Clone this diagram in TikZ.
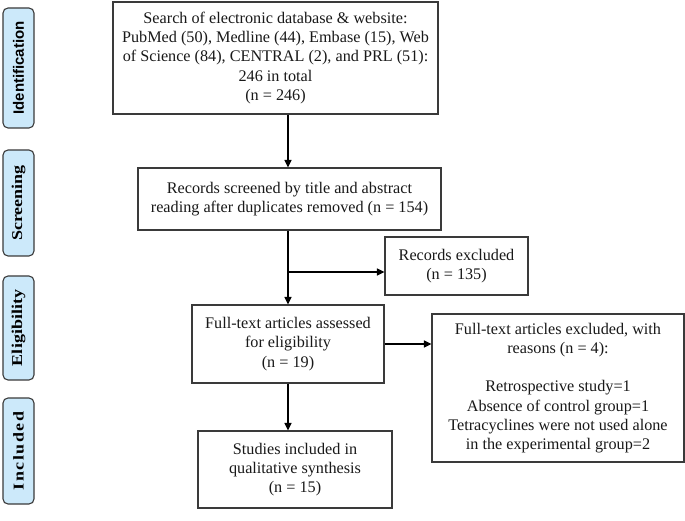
\documentclass[tikz,border=0pt]{standalone}
\usepackage{fontspec}
\setmainfont{Liberation Serif}
\setsansfont{Liberation Sans}
\usetikzlibrary{arrows.meta}
\definecolor{stageblue}{HTML}{CCE9FA}
\definecolor{edgegray}{HTML}{3A3A3A}

\begin{document}
\begin{tikzpicture}[x=1pt,y=-1pt,
    >={Triangle[length=7.5pt,width=7pt]},
    box/.style={draw=edgegray,line width=1.1pt,fill=white,align=center,inner sep=0pt,
        text=black!90,font=\fontsize{16.2}{19.3}\selectfont},
    stage/.style={draw=edgegray,line width=1.1pt,fill=stageblue,rounded corners=5pt,
        rotate=90,minimum height=31pt,inner sep=0pt,font=\bfseries\fontsize{15}{18}\selectfont},
    link/.style={->,line width=1.1pt,black}]

    % Fix the page size
    \useasboundingbox (0,0) rectangle (685,521);

    % Stage labels on the left
    \node[stage,minimum width=120pt] (ident) at (18.5,68) {\sffamily Identification};
    \node[stage,minimum width=106pt] (screening) at (18.5,203) {\scalebox{1.2}[1]{Screening}};
    \node[stage,minimum width=104pt] (elig) at (18.5,328) {\scalebox{1.2}[1]{Eligibility}};
    \node[stage,minimum width=106pt] (incl) at (18.5,451)
        {\scalebox{1.2}[1]{\addfontfeature{LetterSpace=8}Included}};

    % Main boxes
    \node[box,minimum width=325pt,minimum height=112pt] (search) at (275.5,58)
        {Search of electronic database \& website:\\PubMed (50), Medline (44), Embase (15), Web\\of Science (84), CENTRAL (2), and PRL (51):\\246 in total\\(n = 246)};
    \node[box,minimum width=303pt,minimum height=62pt] (screen) at (289.5,199)
        {Records screened by title and abstract\\reading after duplicates removed (n = 154)};
    \node[box,minimum width=143pt,minimum height=58pt] (excl) at (456.5,266)
        {Records excluded\\(n = 135)};
    \node[box,minimum width=192pt,minimum height=78pt] (full) at (288,344)
        {Full-text articles assessed\\for eligibility\\(n = 19)};
    \node[box,minimum width=252pt,minimum height=148pt] (reasons) at (558,388)
        {Full-text articles excluded, with\\reasons (n = 4):\\[19pt]Retrospective study=1\\Absence of control group=1\\Tetracyclines were not used alone\\in the experimental group=2};
    \node[box,minimum width=194pt,minimum height=77pt] (studies) at (295,469.5)
        {Studies included in\\qualitative synthesis\\(n = 15)};

    % Arrows
    \coordinate (branch) at (288,272);
    \draw[link] (search.south -| full) -- (screen.north -| full);
    \draw[link] (screen.south -| full) -- (full.north);
    \draw[link] (branch) -- (branch -| excl.west);
    \draw[link] (full.east) -- (full.east -| reasons.west);
    \draw[link] (full.south) -- (full.south |- studies.north);

\end{tikzpicture}
\end{document}
